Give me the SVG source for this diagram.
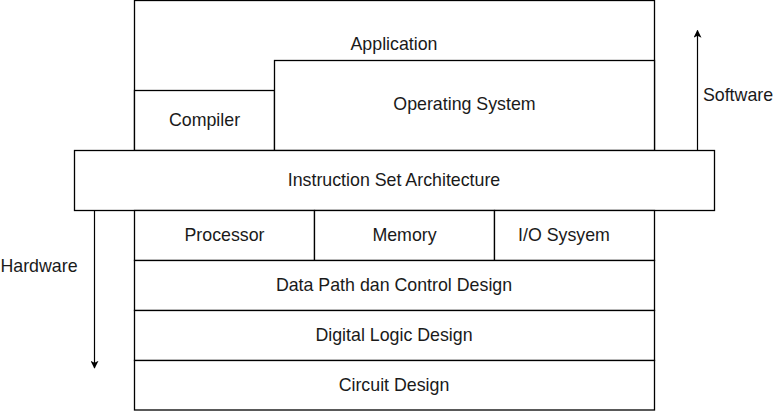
<svg xmlns="http://www.w3.org/2000/svg" width="775" height="411" viewBox="0 0 775 411">
<style>
.b{fill:#fff;stroke:#000;stroke-width:1.3}
.t{font-family:"Liberation Sans",Arial,sans-serif;font-size:17.8px;fill:#1a1a1a;text-anchor:middle}
.c{stroke:#000;stroke-width:1.2;fill:none}
</style>
<defs>
<marker id="ah" viewBox="0 0 10 10" refX="9" refY="5" markerWidth="8" markerHeight="8" markerUnits="userSpaceOnUse" orient="auto">
<path d="M0,0 L10,5 L0,10 L2.5,5 Z" fill="#000"/>
</marker>
</defs>
<rect width="775" height="411" fill="#fff"/>
<g id="application"><rect class="b" x="134.5" y="0.5" width="520" height="150"/><text class="t" x="394" y="50">Application</text></g>
<g id="compiler"><rect class="b" x="134.5" y="90.5" width="140" height="60"/><text class="t" x="204.5" y="125.5">Compiler</text></g>
<g id="os"><rect class="b" x="274.5" y="60.5" width="380" height="90"/><text class="t" x="464.5" y="109.5">Operating System</text></g>
<g id="connectors">
<line class="c" x1="697.5" y1="150.5" x2="697.5" y2="30.5" marker-end="url(#ah)"/>
<line class="c" x1="94.5" y1="210.5" x2="94.5" y2="368" marker-end="url(#ah)"/>
</g>
<g id="isa"><rect class="b" x="74.5" y="150.5" width="640" height="60"/><text class="t" x="394" y="185.5">Instruction Set Architecture</text></g>
<g id="processor"><rect class="b" x="134.5" y="210.5" width="180" height="50"/><text class="t" x="224.5" y="240.5">Processor</text></g>
<g id="memory"><rect class="b" x="314.5" y="210.5" width="180" height="50"/><text class="t" x="404.5" y="240.5">Memory</text></g>
<g id="io"><rect class="b" x="494.5" y="210.5" width="160" height="50"/><text class="t" x="564" y="240.5">I/O Sysyem</text></g>
<g id="datapath"><rect class="b" x="134.5" y="260.5" width="520" height="50"/><text class="t" x="394" y="290.5">Data Path dan Control Design</text></g>
<g id="digital"><rect class="b" x="134.5" y="310.5" width="520" height="50"/><text class="t" x="394" y="340.5">Digital Logic Design</text></g>
<g id="circuit"><rect class="b" x="134.5" y="360.5" width="520" height="49.5"/><text class="t" x="394" y="390.5">Circuit Design</text></g>
<g id="software-label"><text class="t" x="738" y="100.5">Software</text></g>
<g id="hardware-label"><text class="t" x="39" y="271.5">Hardware</text></g>
</svg>
